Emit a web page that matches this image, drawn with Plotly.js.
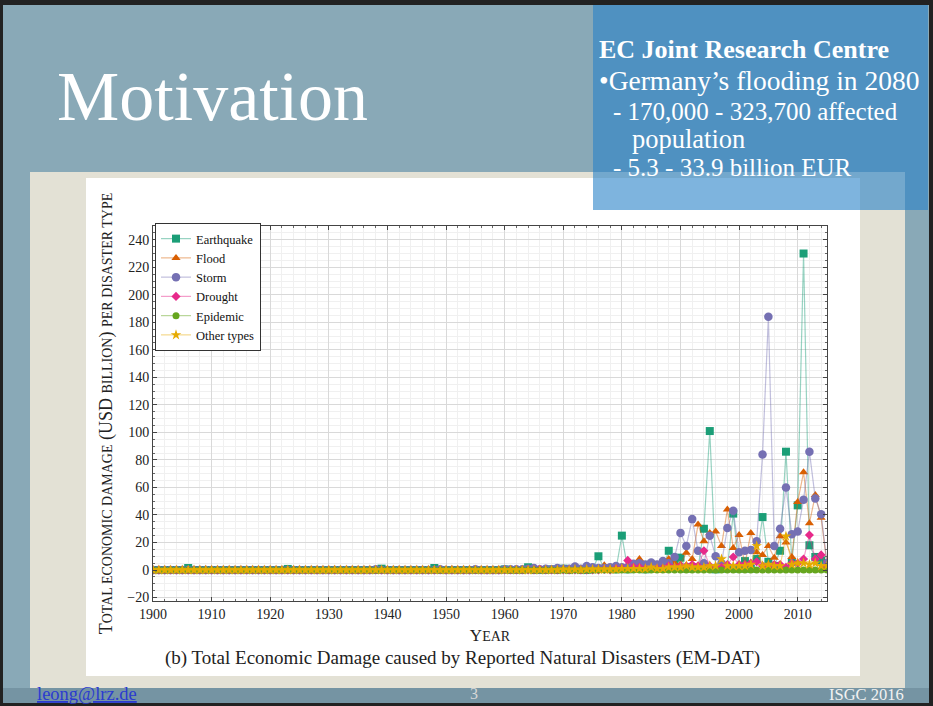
<!DOCTYPE html>
<html>
<head>
<meta charset="utf-8">
<script src="https://cdn.plot.ly/plotly-3.0.1.min.js"></script>
<style>
html,body{margin:0;padding:0;background:#222;}
#chart{width:933px;height:706px;}
</style>
</head>
<body>
<div id="chart"></div>
<script>
// ---------------- DATA ----------------
const years = [
1900,1901,1902,1903,1904,1905,1906,1907,1908,1909,
1910,1911,1912,1913,1914,1915,1916,1917,1918,1919,
1920,1921,1922,1923,1924,1925,1926,1927,1928,1929,
1930,1931,1932,1933,1934,1935,1936,1937,1938,1939,
1940,1941,1942,1943,1944,1945,1946,1947,1948,1949,
1950,1951,1952,1953,1954,1955,1956,1957,1958,1959,
1960,1961,1962,1963,1964,1965,1966,1967,1968,1969,
1970,1971,1972,1973,1974,1975,1976,1977,1978,1979,
1980,1981,1982,1983,1984,1985,1986,1987,1988,1989,
1990,1991,1992,1993,1994,1995,1996,1997,1998,1999,
2000,2001,2002,2003,2004,2005,2006,2007,2008,2009,
2010,2011,2012,2013,2014,2015];

const earthquake = [
0,0,0,0,0,0,1.5,0,0,0,
0,0,0,0,0,0,0,0,0,0,
0,0,0,0.8,0,0,0,0,0,0,
0,0,0,0,0,0,0,0,0,1,
0,0,0,0,0,0,0,0,1.5,0,
0,0,0,0,0,0,0,0,0,0,
0.5,0,0,0,2,0,0,0,0.5,0,
1,0,1,0,0,0.5,10,1,1,0.5,
25,0.5,1,1,0.5,4,1,1,14,6,
9,1,2,1.5,30,101,0.5,1,1.5,41,
1,6.5,1,8,38.5,6,3,14,86,6,
47,230,18,9.5,7,5];

const flood = [
0.3,0,0,0,0,0,0,0,0,0.5,
0,0,0,0,0,0,0,0,0,0,
0,0,0,0,0,0,0,0,0,0,
0,0.5,0,0,0,0,0,0,0,0,
0,0,0,0,0,0,0,0,0,0,
0,0.5,0,0,0,0,0,0,0,0,
0,0,0,0,0,0,0.5,0,0,0,
0,0.5,0,0,0,0.5,0.5,3.5,1,1,
2,1,1,8,1,3,4,3,8,5,
4,12.5,8,33,21,27,28,17.5,44,16,
25.5,4,27,13,11,17.5,9,24.5,20,9.5,
49.5,71,34,54.5,38,4];

const storm = [
0,0,0,0,0,0,0,0,0,0,
0,0,0,0,0,0,0,0,0,0,
0,0,0,0,0,0,0,0,0,0,
0,0,0,0,0,0,0,0,0.5,0,
0,0,0,0,0,0,0,0,0,0.5,
0,0,0,0,0,0.5,0,0,0,0,
0.5,0.5,0.5,0.5,1,1.5,0.5,1,0.5,1.5,
1,1,2.5,1,3,2,1.5,1.5,2,3,
2,2,4.5,5,4,5.5,4,6.5,5,9.5,
27,17.5,37,14,5,25,10,5,30.5,43,
13,14,14.5,21,84,184,17.5,30,60,26,
28,51,86,52,40.5,5];

const drought = [
0,0,0,0,0,0,0,0,0,0,
0,0,0,0,0,0,0,0,0,0,
0,0,0,0,0,0,0,0,0,0,
0,0,0,0,0,0,0,0,0,0,
0,0,0,0,0,0,0,0,0,0,
0,0,0,0,0,0,0,0,0,0,
0,0,0,0,0,0,0.5,0,0,0,
0,0,0,0,0,0,0,0.5,0,1,
1,7,2,2,1,1,1,1,3,2,
3,3,4,3,14,3,2,2,4,9.5,
4,4,5,6,3,3,4,4,2,5,
5,8,25.5,8,11,2];

const epidemic = [
0,0,0,0,0,0,0,0,0,0,
0,0,0,0,0,0,0,0,0,0,
0,0,0,0,0,0,0,0,0,0,
0,0,0,0,0,0,0,0,0,0,
0,0,0,0,0,0,0,0,0,0,
0,0,0,0,0,0,0,0,0,0,
0,0,0,0,0,0,0,0,0,0,
0,0,0,0,0,0,0,0,0,0,
0,0,0,0,0,0,0,0,0,0,
0,0,0,0,0,0,0,0,0,0,
0,0,0,0,0,0,0,0,0,0,
0,0,0,0,0,0];

const otherTypes = [
0,0,0,0,0,0,0,0,0,0,
0,0,0,0,0,0,0,0,0,0,
0,0,0,0,0,0,0,0,0,0,
0,0,0,0,0,0,0,0,0,0,
0,0,0,0,0,0,0,0,0,0,
0,0,0,0,0,0,0,0,0,0,
0,0,0,0,0,0,0,0,0,0,
0.5,0,0.5,0,0.5,0.5,0.5,0.5,0.5,0.5,
1,1,1,1,1,2,1,1,2,2,
2,3,2,2,2,3,3,8,3,3,
3,3,4,17.5,3,4,3,3,24.5,4,
5,5,4,5,3,3];

const seriesNames = ["Earthquake","Flood","Storm","Drought","Epidemic","Other types"];
const xTickVals = [1900,1910,1920,1930,1940,1950,1960,1970,1980,1990,2000,2010];
const yTickVals = [-20,0,20,40,60,80,100,120,140,160,180,200,220,240];

// ---------------- STYLE ----------------
const colors  = ["#1b9e77","#d95f02","#7570b3","#e7298a","#66a61e","#e6ab02"];
const lineCol = ["rgba(27,158,119,0.45)","rgba(217,95,2,0.45)","rgba(117,112,179,0.45)",
                 "rgba(231,41,138,0.45)","rgba(102,166,30,0.45)","rgba(230,171,2,0.45)"];
const symbols = ["square","triangle-up","circle","diamond","circle","star"];
const sizes   = [8,8,8.5,7,7,8];
const values  = [earthquake, flood, storm, drought, epidemic, otherTypes];

const SERIF = "Liberation Serif, DejaVu Serif, serif";

const traces = seriesNames.map((n,i)=>({
  type:"scatter", mode:"lines+markers", name:n,
  x: years, y: values[i],
  line:{color:lineCol[i], width:1.2},
  marker:{color:colors[i], symbol:symbols[i], size:sizes[i], line:{width:0}}
}));

// plot area in pixels
const PL=153, PR=827, PT=226, PB=601;
const PW=PR-PL, PH=PB-PT;
const X = px => (px-PL)/PW;
const Y = py => (PB-py)/PH;

function rect(x0,y0,x1,y1,fill){
  return {type:"rect", xref:"paper", yref:"paper", layer:"below",
    x0:X(x0), x1:X(x1), y0:Y(y1), y1:Y(y0), fillcolor:fill, line:{width:0}};
}
function txt(px,py,text,size,color,anchor,extra){
  return Object.assign({xref:"paper", yref:"paper", x:X(px), y:Y(py), text:text,
    showarrow:false, xanchor:anchor||"left", yanchor:"middle",
    font:{family:SERIF, size:size, color:color}}, extra||{});
}

const sc  = s => "<span style='font-size:14px'>"+s+"</span>";
const scx = s => "<span style='font-size:14px'>"+s+"</span>";

const layout = {
  width:933, height:706,
  margin:{l:PL, r:933-PR, t:PT, b:706-PB, pad:0},
  paper_bgcolor:"#222222",
  plot_bgcolor:"#ffffff",
  showlegend:true,
  font:{family:SERIF, color:"#222"},
  xaxis:{
    range:[1900,2015], tickvals:xTickVals, ticks:"inside", ticklen:4, tickcolor:"#444",
    showline:true, linecolor:"#444", linewidth:1, mirror:"ticks",
    showgrid:true, gridcolor:"#d9d9d9", gridwidth:1, zeroline:false,
    tickfont:{family:SERIF, size:14, color:"#222"},
    minor:{dtick:2, tick0:1900, ticks:"inside", ticklen:2, tickcolor:"#666", showgrid:true, gridcolor:"#f0f0f0"},
    title:{text:"Y"+scx("EAR"), font:{family:SERIF, size:17, color:"#222"}, standoff:8}
  },
  yaxis:{
    range:[-22.5,250], tickvals:yTickVals, ticks:"inside", ticklen:4, tickcolor:"#444",
    showline:true, linecolor:"#444", linewidth:1, mirror:"ticks",
    showgrid:true, gridcolor:"#d9d9d9", gridwidth:1, zeroline:false,
    tickfont:{family:SERIF, size:14, color:"#222"},
    minor:{dtick:5, tick0:0, ticks:"inside", ticklen:2, tickcolor:"#666", showgrid:true, gridcolor:"#f0f0f0"},
    title:{text:"T"+sc("OTAL ECONOMIC DAMAGE")+" (USD "+sc("BILLION")+") "+sc("PER DISASTER TYPE"),
           font:{family:SERIF, size:18, color:"#222"}, standoff:9}
  },
  legend:{
    x:X(155), y:Y(223), xanchor:"left", yanchor:"top",
    bgcolor:"#ffffff", bordercolor:"#333", borderwidth:1,
    font:{family:SERIF, size:12.5, color:"#111"},
    tracegroupgap:0, itemwidth:30
  },
  shapes:[
    rect(3,5,929,703,"#89a9b7"),
    rect(3,688,929,703,"#7594a3"),
    rect(30,172,905,688,"#e3e1d5"),
    rect(86,178,860,676,"#ffffff"),
    rect(593,5,928,210,"rgba(40,130,200,0.6)")
  ],
  annotations:[
    txt(55,96,"Motivation",70,"#ffffff","left"),
    txt(597,50,"<b>EC Joint Research Centre</b>",26,"#ffffff","left"),
    txt(597,81,"•Germany’s flooding in 2080",27.5,"#ffffff","left"),
    txt(611,111,"- 170,000 - 323,700 affected",25,"#ffffff","left"),
    txt(630,139,"population",26.5,"#ffffff","left"),
    txt(611,168,"- 5.3 - 33.9 billion EUR",25,"#ffffff","left"),
    txt(462,658,"(b) Total Economic Damage caused by Reported Natural Disasters (EM-DAT)",19,"#222","center"),
    txt(35,694,"<span style='text-decoration:underline'>leong@lrz.de</span>",18.5,"#2b3bd0","left"),
    txt(474,693,"3",16,"#d8d8d8","center"),
    txt(906,694,"ISGC 2016",16.5,"#f2f2f2","right")
  ]
};

Plotly.newPlot("chart", traces, layout, {displayModeBar:false, staticPlot:true});
</script>
</body>
</html>
